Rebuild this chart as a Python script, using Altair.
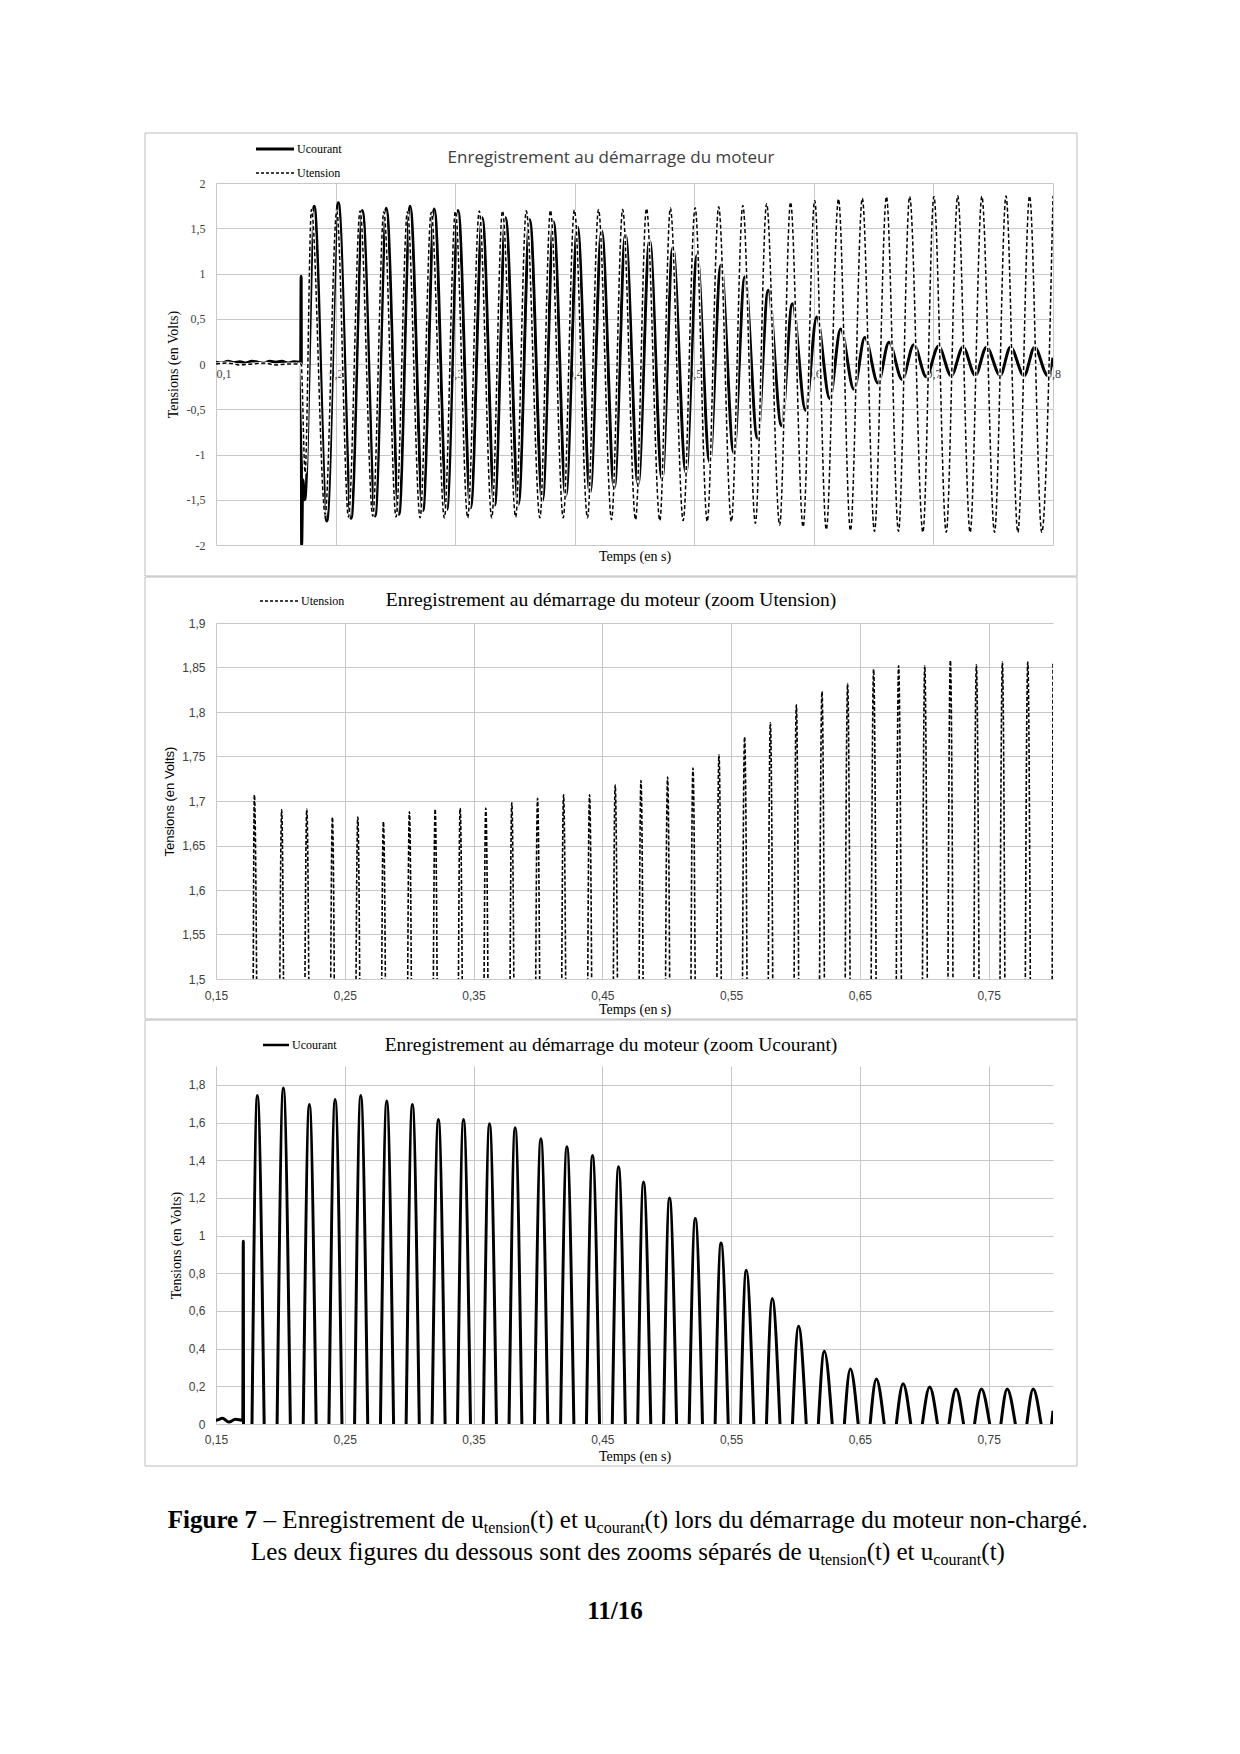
import altair as alt
import pandas as pd

# ---------------- values ----------------
# U_tension (dashed): quiet level, switch-on, then peaks and troughs
ten_pre_t = [0.100, 0.110, 0.120, 0.130, 0.140, 0.150, 0.160, 0.1712]
ten_pre_v = [0.00, 0.01, -0.01, 0.00, 0.01, -0.01, 0.00, 0.00]
ten_start_t = [0.1745]
ten_start_v = [-1.20]
ten_peak_t = [0.1798, 0.2010, 0.2205, 0.2404, 0.2601, 0.2800, 0.3002, 0.3202, 0.3396, 0.3595,
              0.3797, 0.3997, 0.4199, 0.4401, 0.4600, 0.4800, 0.5007, 0.5204, 0.5406, 0.5605,
              0.5805, 0.6007, 0.6206, 0.6405, 0.6607, 0.6801, 0.7004, 0.7203, 0.7405, 0.7607,
              0.7804, 0.8000]
ten_peak_v = [1.707, 1.690, 1.691, 1.682, 1.682, 1.677, 1.688, 1.691, 1.692, 1.692,
              1.698, 1.703, 1.707, 1.707, 1.718, 1.723, 1.727, 1.737, 1.752, 1.772,
              1.788, 1.808, 1.823, 1.832, 1.848, 1.852, 1.852, 1.858, 1.853, 1.856,
              1.856, 1.856]
ten_trough_t = [0.1913, 0.2108, 0.2311, 0.2506, 0.2707, 0.2910, 0.3105, 0.3306, 0.3506, 0.3709,
                0.3904, 0.4107, 0.4308, 0.4509, 0.4712, 0.4907, 0.5108, 0.5310, 0.5511, 0.5714,
                0.5910, 0.6104, 0.6306, 0.6507, 0.6708, 0.6912, 0.7107, 0.7307, 0.7511, 0.7706,
                0.7906]
ten_trough_v = [-1.66, -1.69, -1.68, -1.69, -1.70, -1.70, -1.70, -1.70, -1.69, -1.70,
                -1.70, -1.70, -1.72, -1.72, -1.73, -1.73, -1.74, -1.74, -1.76, -1.78,
                -1.80, -1.83, -1.84, -1.85, -1.85, -1.86, -1.86, -1.86, -1.86, -1.86,
                -1.86]

# U_courant (solid): quiet level, switch-on spike, then peaks and troughs
cour_pre_t = [0.100, 0.105, 0.110, 0.115, 0.120, 0.125, 0.130, 0.135, 0.140, 0.145,
              0.150, 0.155, 0.160, 0.165, 0.1708]
cour_pre_v = [0.02, 0.01, 0.03, 0.015, 0.025, 0.01, 0.03, 0.02, 0.01, 0.03,
              0.02, 0.03, 0.01, 0.025, 0.02]
cour_start_t = [0.1712, 0.1716, 0.1726, 0.1742]
cour_start_v = [0.97, -2.00, -1.28, -1.50]
cour_peak_t = [0.1821, 0.2023, 0.2225, 0.2425, 0.2624, 0.2826, 0.3025, 0.3227, 0.3422, 0.3624,
               0.3823, 0.4023, 0.4225, 0.4424, 0.4626, 0.4820, 0.5022, 0.5222, 0.5422, 0.5618,
               0.5820, 0.6024, 0.6224, 0.6426, 0.6628, 0.6836, 0.7042, 0.7247, 0.7444, 0.7644,
               0.7846]
cour_peak_v = [1.744, 1.783, 1.696, 1.722, 1.744, 1.714, 1.696, 1.616, 1.616, 1.593,
               1.572, 1.514, 1.471, 1.425, 1.365, 1.284, 1.200, 1.090, 0.961, 0.816,
               0.666, 0.519, 0.386, 0.292, 0.239, 0.214, 0.196, 0.186, 0.186, 0.186,
               0.186]
cour_trough_t = [0.1927, 0.2130, 0.2330, 0.2530, 0.2730, 0.2930, 0.3130, 0.3330, 0.3529, 0.3730,
                 0.3925, 0.4128, 0.4331, 0.4530, 0.4730, 0.4930, 0.5128, 0.5330, 0.5528, 0.5729,
                 0.5930, 0.6132, 0.6335, 0.6536, 0.6738, 0.6940, 0.7149, 0.7350, 0.7558, 0.7758,
                 0.7956]
cour_trough_v = [-1.735, -1.705, -1.68, -1.66, -1.62, -1.61, -1.59, -1.56, -1.55, -1.51,
                 -1.46, -1.42, -1.37, -1.33, -1.27, -1.20, -1.08, -0.98, -0.82, -0.68,
                 -0.51, -0.38, -0.28, -0.21, -0.17, -0.14, -0.13, -0.125, -0.125, -0.13,
                 -0.13]
cour_end_t = [0.8000]
cour_end_v = [0.07]

# axis tick values
x_ticks_main = [0.1, 0.2, 0.3, 0.4, 0.5, 0.6, 0.7, 0.8]
y_ticks_main = [-2, -1.5, -1, -0.5, 0, 0.5, 1, 1.5, 2]
x_ticks_zoom = [0.15, 0.25, 0.35, 0.45, 0.55, 0.65, 0.75]
y_ticks_ten = [1.5, 1.55, 1.6, 1.65, 1.7, 1.75, 1.8, 1.85, 1.9]
y_ticks_cour = [0, 0.2, 0.4, 0.6, 0.8, 1, 1.2, 1.4, 1.6, 1.8]


def build(parts):
    t, v = [], []
    for pt, pv in parts:
        t += list(pt)
        v += list(pv)
    return pd.DataFrame({"t": t, "v": v}).sort_values("t").reset_index(drop=True)


tension = build([(ten_pre_t, ten_pre_v), (ten_start_t, ten_start_v),
                 (ten_peak_t, ten_peak_v), (ten_trough_t, ten_trough_v)])
courant = build([(cour_pre_t, cour_pre_v), (cour_start_t, cour_start_v),
                 (cour_peak_t, cour_peak_v), (cour_trough_t, cour_trough_v),
                 (cour_end_t, cour_end_v)])

# ---------------- styles ----------------
SERIF = "Liberation Serif"
SANS = "Liberation Sans"
TSANS = "Open Sans"
INK = "#000000"
LABEL = "#404040"
GRID = "#c8c8c8"
FRAME = "#bdbdbd"
W = 837
ONE = alt.Data(values=[{"k": 0}])
COMMA = "replace(toString(datum.value), '.', ',')"


def text(s, x, y, font, size, align="left", weight="normal", color=INK, baseline="middle"):
    return alt.Chart(ONE).mark_text(text=s, font=font, fontSize=size, align=align,
                                    baseline=baseline, fontWeight=weight, color=color
                                    ).encode(x=alt.value(x), y=alt.value(y))


def seg(x1, x2, y, width, dash=None):
    kw = dict(color=INK, strokeWidth=width)
    if dash:
        kw["strokeDash"] = dash
    return alt.Chart(ONE).mark_rule(**kw).encode(x=alt.value(x1), x2=alt.value(x2), y=alt.value(y))


def frame(y1, y2):
    return alt.Chart(ONE).mark_rect(fill="white", fillOpacity=0, stroke=FRAME, strokeWidth=1
                                    ).encode(x=alt.value(-71), x2=alt.value(861),
                                             y=alt.value(y1), y2=alt.value(y2))


def xaxis(values, labelfont, labelpad, title_y, offset=0, flush_left=False):
    kw = dict(values=values, title="Temps (en s)", labelExpr=COMMA, grid=True, gridColor=GRID,
              gridWidth=1, domain=False, ticks=False, tickSize=0, labelPadding=labelpad,
              labelFont=labelfont, labelFontSize=12, labelColor=LABEL, labelFlush=False,
              labelOverlap=False, titleFont=SERIF, titleFontSize=14, titleFontWeight="normal",
              titleColor=INK, titleY=title_y, titleBaseline="middle")
    if offset:
        kw["offset"] = offset
    if flush_left:
        kw["labelAlign"] = {"condition": {"test": "datum.value < 0.15", "value": "left"},
                            "value": "center"}
    return alt.Axis(**kw)


def yaxis(values, labelfont, titlefont, titlesize, title_x, title_y):
    return alt.Axis(values=values, title="Tensions (en Volts)", labelExpr=COMMA, grid=True,
                    gridColor=GRID, gridWidth=1, domain=False, ticks=False, tickSize=0,
                    labelPadding=11, labelFont=labelfont, labelFontSize=12, labelColor=LABEL,
                    labelOverlap=False, labelFlush=False, titleFont=titlefont,
                    titleFontSize=titlesize, titleFontWeight="normal", titleColor=INK,
                    titleX=title_x, titleY=title_y, titleAngle=270, titleBaseline="middle")


# ---------------- panel 1 : both signals ----------------
H1 = 362
x1 = alt.X("t:Q", scale=alt.Scale(domain=[0.1, 0.8], nice=False, zero=False),
           axis=xaxis(x_ticks_main, SERIF, 4, 192, offset=-181, flush_left=True))
y1 = alt.Y("v:Q", scale=alt.Scale(domain=[-2, 2], nice=False, zero=False),
           axis=yaxis(y_ticks_main, SERIF, SERIF, 14, -43, 181))

p1 = alt.layer(
    frame(-50, 393),
    alt.Chart(courant).mark_line(color=INK, strokeWidth=3, interpolate="monotone", clip=True
                                 ).encode(x=x1, y=y1),
    alt.Chart(tension).mark_line(color="white", strokeWidth=3, interpolate="monotone", clip=True
                                 ).encode(x=x1, y=y1),
    alt.Chart(tension).mark_line(color=INK, strokeWidth=1.5, strokeDash=[4, 2.5],
                                 interpolate="monotone", clip=True).encode(x=x1, y=y1),
    text("Enregistrement au démarrage du moteur", 395, -25, TSANS, 17, align="center",
         color="#404040"),
    seg(40, 78, -34, 3),
    text("Ucourant", 81, -34, SERIF, 12),
    seg(40, 78, -10, 1.5, [3, 2]),
    text("Utension", 81, -10, SERIF, 12),
).properties(width=W, height=H1)

# ---------------- panel 2 : zoom U_tension ----------------
H2 = 356
x2 = alt.X("t:Q", scale=alt.Scale(domain=[0.15, 0.8], nice=False, zero=False),
           axis=xaxis(x_ticks_zoom, SANS, 11, 30))
y2 = alt.Y("v:Q", scale=alt.Scale(domain=[1.5, 1.9], nice=False, zero=False),
           axis=yaxis(y_ticks_ten, SANS, SANS, 13, -47, 178))

p2 = alt.layer(
    frame(-46, 396),
    alt.Chart(tension).mark_line(color=INK, strokeWidth=1.6, strokeDash=[4, 2],
                                 interpolate="monotone", clip=True).encode(x=x2, y=y2),
    text("Enregistrement au démarrage du moteur (zoom Utension)", 395, -23, SERIF, 19.5,
         align="center"),
    seg(44, 82, -22, 1.5, [3, 2]),
    text("Utension", 85, -22, SERIF, 12),
).properties(width=W, height=H2)

# ---------------- panel 3 : zoom U_courant + caption ----------------
H3 = 358
x3 = alt.X("t:Q", scale=alt.Scale(domain=[0.15, 0.8], nice=False, zero=False),
           axis=xaxis(x_ticks_zoom, SANS, 10, 32))
y3 = alt.Y("v:Q", scale=alt.Scale(domain=[0, 1.9], nice=False, zero=False),
           axis=yaxis(y_ticks_cour, SANS, SERIF, 14, -40, 179))

# Times / Liberation Serif advance widths (per 1000 em) for caption layout
TIMES = {" ": 250, "(": 333, ")": 333, "-": 333, ".": 250, "/": 278, "–": 500,
         "E": 611, "F": 556, "L": 611, "U": 722,
         "a": 444, "c": 444, "d": 500, "e": 444, "f": 333, "g": 500, "h": 500, "i": 278,
         "l": 278, "m": 778, "n": 500, "o": 500, "p": 500, "r": 333, "s": 389, "t": 278,
         "u": 500, "x": 500, "z": 444, "é": 444}
TIMES_B = {" ": 250, "F": 611, "i": 278, "g": 500, "u": 556, "r": 444, "e": 444, "/": 278}


def tw(s, bold):
    table = TIMES_B if bold else TIMES
    return sum(table.get(ch, 500) for ch in s) / 1000.0


def caption(segs, cx, y, size):
    sub_size = size * 0.64
    widths = [tw(s, b) * (sub_size if sub else size) for s, b, sub in segs]
    x = cx - sum(widths) / 2
    out = []
    for (s, b, sub), w in zip(segs, widths):
        fs = sub_size if sub else size
        lead = len(s) - len(s.lstrip(" "))
        xr = x + tw(s[:lead], b) * fs
        out.append(text(s.strip(" "), xr, y + (5 if sub else 0), SERIF, fs,
                        weight="bold" if b else "normal", baseline="alphabetic"))
        x += w
    return out


line1 = [("Figure 7", True, False), (" – Enregistrement de u", False, False),
         ("tension", False, True), ("(t) et u", False, False), ("courant", False, True),
         ("(t) lors du démarrage du moteur non-chargé.", False, False)]
line2 = [("Les deux figures du dessous sont des zooms séparés de u", False, False),
         ("tension", False, True), ("(t) et u", False, False), ("courant", False, True),
         ("(t)", False, False)]

p3 = alt.layer(
    frame(-46, 400),
    alt.Chart(courant).mark_line(color=INK, strokeWidth=3, interpolate="monotone", clip=True
                                 ).encode(x=x3, y=y3),
    text("Enregistrement au démarrage du moteur (zoom Ucourant)", 395, -21, SERIF, 19.5,
         align="center"),
    seg(47, 73, -21, 2.5),
    text("Ucourant", 76, -21, SERIF, 12),
    *caption(line1, 412, 462, 25),
    *caption(line2, 412, 494, 25),
    text("11/16", 399, 553, SERIF, 25, align="center", weight="bold", baseline="alphabetic"),
).properties(width=W, height=H3)

chart = alt.vconcat(p1, p2, p3, spacing=-1).resolve_scale(
    x="independent", y="independent"
).properties(
    padding={"left": 136, "top": 124, "right": 12, "bottom": 12},
    background="white",
).configure_view(strokeOpacity=0)

chart.save("out.html", embed_options={"renderer": "svg", "actions": False})
